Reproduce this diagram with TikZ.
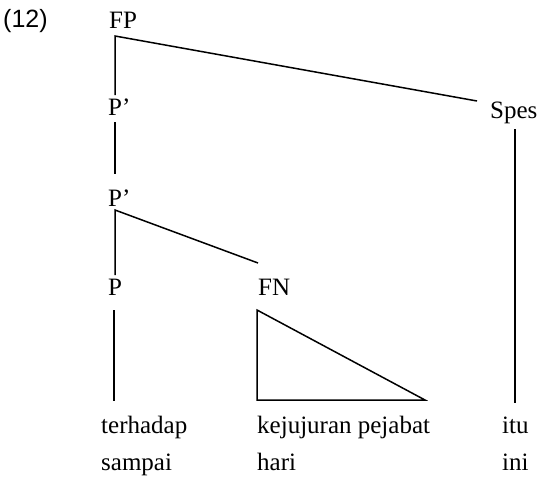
\documentclass[tikz,border=0pt]{standalone}
\usepackage{fontspec}
\setmainfont{Liberation Serif}
\newfontfamily\numfont{Liberation Sans}
\begin{document}
\begin{tikzpicture}[x=1pt,y=-1pt,
  lbl/.style={anchor=base west,inner sep=0pt,font=\fontsize{25}{30}\selectfont},
  edge/.style={line width=1.5pt,line cap=butt,line join=miter}]
\useasboundingbox (0,0) rectangle (540,480);
\node[anchor=base west,inner sep=0pt,font=\numfont\fontsize{25}{30}\selectfont] (ex) at (3,27) {(12)};
\node[lbl] (fp) at (109,28) {FP};
\node[lbl] (pb1) at (108,115) {P’};
\node[lbl] (pb2) at (108,206) {P’};
\node[lbl] (p) at (108,295) {P};
\node[lbl] (fn) at (258,295) {FN};
\node[lbl] (spes) at (490,118) {Spes};
\node[lbl] (w1) at (101,433) {terhadap};
\node[lbl] (w2) at (257,433) {kejujuran pejabat};
\node[lbl] (w3) at (502,433) {itu};
\node[lbl] (w4) at (101,470) {sampai};
\node[lbl] (w5) at (257,470) {hari};
\node[lbl] (w6) at (502,470) {ini};
% connector end points
\coordinate (fpc) at (115,36);
\coordinate (pb1t) at (115,95);
\coordinate (spesl) at (477,101);
\coordinate (pb1b) at (115,122);
\coordinate (pb2t) at (115,174);
\coordinate (pb2c) at (115,210);
\coordinate (pt) at (115,275);
\coordinate (fnt) at (258,263);
\coordinate (pb) at (114,310);
\coordinate (w1t) at (114,401);
\coordinate (tri1) at (257,310);
\coordinate (tri2) at (257,400);
\coordinate (tri3) at (425,400);
\coordinate (spesb) at (515,129);
\coordinate (w3t) at (515,403);
\draw[edge] (pb1t) -- (fpc) -- (spesl);
\draw[edge] (pb1b) -- (pb2t);
\draw[edge] (pt) -- (pb2c) -- (fnt);
\draw[edge] (pb) -- (w1t);
\draw[edge] (tri1) -- (tri2) -- (tri3) -- cycle;
\draw[edge] (spesb) -- (w3t);
\end{tikzpicture}
\end{document}
